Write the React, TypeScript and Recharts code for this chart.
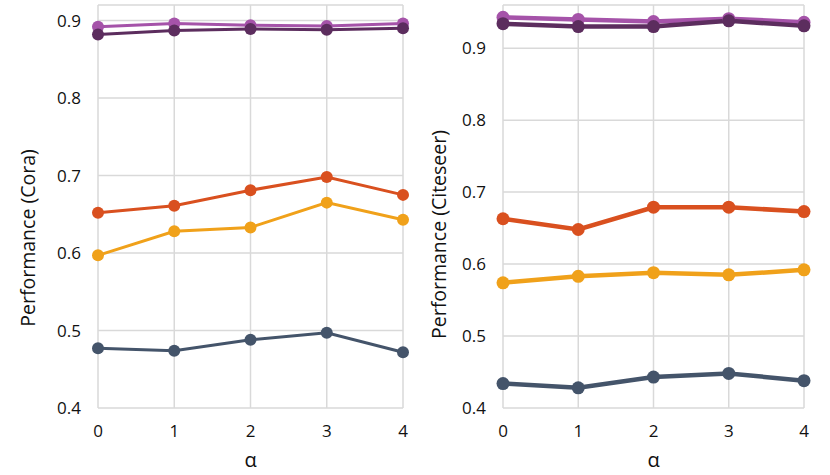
import React from "react";
import { LineChart, Line, XAxis, YAxis, CartesianGrid } from "recharts";

// alpha values on the x axis
const alphas = ["0", "1", "2", "3", "4"];

// Cora
const coraPink = [0.892, 0.896, 0.894, 0.893, 0.896];
const coraDark = [0.882, 0.887, 0.889, 0.888, 0.89];
const coraRed = [0.652, 0.661, 0.681, 0.698, 0.675];
const coraYellow = [0.597, 0.628, 0.633, 0.665, 0.643];
const coraSlate = [0.477, 0.474, 0.488, 0.497, 0.472];

// Citeseer
const citePink = [0.943, 0.94, 0.937, 0.941, 0.936];
const citeDark = [0.934, 0.93, 0.93, 0.938, 0.931];
const citeRed = [0.663, 0.648, 0.679, 0.679, 0.673];
const citeYellow = [0.574, 0.583, 0.588, 0.585, 0.592];
const citeSlate = [0.434, 0.428, 0.443, 0.448, 0.438];

const yTicks = [0.4, 0.5, 0.6, 0.7, 0.8, 0.9];

const COLORS = {
  slate: "#44546a",
  yellow: "#f0a11a",
  red: "#d9501f",
  pink: "#a553a9",
  dark: "#5c2d5e",
};

const FONT = "'Open Sans', 'Noto Sans', sans-serif";
const TEXT = "#111";
const W = 415;
const H = 475;

function buildRows(series: Record<string, number[]>) {
  return alphas.map((a, i) => {
    const row: Record<string, string | number> = { alpha: a };
    for (const [k, v] of Object.entries(series)) row[k] = v[i];
    return row;
  });
}

interface PanelProps {
  title: string;
  series: Record<string, number[]>;
  yMax: number;
  yAxisWidth: number;
  marginRight: number;
  lineWidth: number;
  dotR: number;
  labelX: number;
  labelY: number;
}

function Panel(p: PanelProps) {
  const rows = buildRows(p.series);
  const plotLeft = p.yAxisWidth;
  const plotRight = W - p.marginRight;
  // draw order: pink first so the dark purple sits on top
  const order = ["slate", "yellow", "red", "pink", "dark"];

  return (
    <LineChart
      width={W}
      height={H}
      data={rows}
      margin={{ top: 5, right: p.marginRight, bottom: 0, left: 0 }}
    >
      <CartesianGrid stroke="#d9d9d9" strokeWidth={1.5} />
      <XAxis
        dataKey="alpha"
        height={67}
        axisLine={false}
        tickLine={false}
        tickSize={0}
        tickMargin={17}
        tick={{ fill: TEXT, fontSize: 17, fontFamily: FONT }}
        label={{
          content: () => (
            <text
              x={(plotLeft + plotRight) / 2}
              y={459}
              textAnchor="middle"
              dominantBaseline="central"
              fill={TEXT}
              fontSize={20}
              fontFamily={FONT}
            >
              α
            </text>
          ),
        }}
      />
      <YAxis
        width={p.yAxisWidth}
        domain={[0.4, p.yMax]}
        ticks={yTicks}
        allowDataOverflow
        axisLine={false}
        tickLine={false}
        tickSize={0}
        tickMargin={17}
        tick={{ fill: TEXT, fontSize: 17, fontFamily: FONT }}
        label={{
          content: () => (
            <text
              x={p.labelX}
              y={p.labelY}
              transform={`rotate(-90 ${p.labelX} ${p.labelY})`}
              textAnchor="middle"
              dominantBaseline="central"
              fill={TEXT}
              fontSize={19.5}
              fontFamily={FONT}
            >
              {p.title}
            </text>
          ),
        }}
      />
      {order.map((k) => (
        <Line
          key={k}
          dataKey={k}
          stroke={COLORS[k as keyof typeof COLORS]}
          strokeWidth={p.lineWidth}
          dot={{ r: p.dotR, fill: COLORS[k as keyof typeof COLORS], stroke: "none" }}
          activeDot={false}
          isAnimationActive={false}
        />
      ))}
    </LineChart>
  );
}

export default function App() {
  return (
    <div style={{ position: "absolute", left: 0, top: 0, display: "flex", width: 830, height: 475, background: "#fff" }}>
      <Panel
        title="Performance (Cora)"
        series={{ slate: coraSlate, yellow: coraYellow, red: coraRed, pink: coraPink, dark: coraDark }}
        yMax={0.92}
        yAxisWidth={98}
        marginRight={12}
        lineWidth={3}
        dotR={6}
        labelX={27}
        labelY={238}
      />
      <Panel
        title="Performance (Citeseer)"
        series={{ slate: citeSlate, yellow: citeYellow, red: citeRed, pink: citePink, dark: citeDark }}
        yMax={0.96}
        yAxisWidth={88}
        marginRight={26}
        lineWidth={4.5}
        dotR={6.5}
        labelX={23.5}
        labelY={234.5}
      />
    </div>
  );
}
